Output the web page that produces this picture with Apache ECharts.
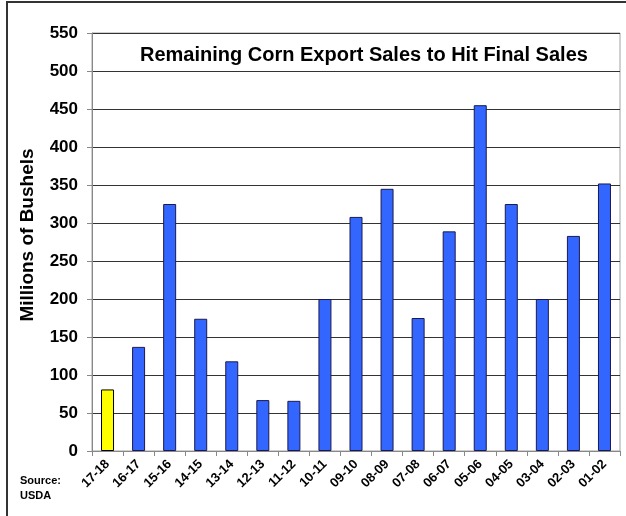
<!DOCTYPE html>
<html>
<head>
<meta charset="utf-8">
<script src="https://cdn.jsdelivr.net/npm/echarts@6/dist/echarts.min.js"></script>
<style>
  html, body { margin: 0; padding: 0; background: #fff; }
  #chart { width: 626px; height: 516px; }
</style>
</head>
<body>
<div id="chart"></div>
<script>
const categories = ['17-18','16-17','15-16','14-15','13-14','12-13','11-12','10-11','09-10','08-09','07-08','06-07','05-06','04-05','03-04','02-03','01-02'];
const remainingSales = [81, 137, 325, 174, 118, 67, 66, 200, 308, 345, 175, 289, 455, 325, 200, 283, 352];
const yTicks = { min: 0, max: 550, interval: 50 };
const titleText = 'Remaining Corn Export Sales to Hit Final Sales';
const yAxisName = 'Millions of Bushels';
const sourceText = 'Source:\nUSDA';

const FONT = 'Liberation Sans, Arial, sans-serif';
const chart = echarts.init(document.getElementById('chart'), null, { renderer: 'canvas' });

const barData = remainingSales.map((v, i) => ({
  value: v,
  itemStyle: i === 0 ? { color: '#FFFF00', borderColor: '#000000' } : {}
}));

chart.setOption({
  animation: false,
  backgroundColor: '#ffffff',
  title: {
    text: titleText,
    left: 135,
    top: 40,
    textStyle: { fontFamily: FONT, fontSize: 20, fontWeight: 'bold', color: '#000' }
  },
  grid: { left: 92, top: 33, right: 6, bottom: 65, containLabel: false, show: true, borderColor: '#a0a0a0', borderWidth: 1 },
  xAxis: {
    type: 'category',
    data: categories,
    axisLine: { show: true, lineStyle: { color: '#888', width: 1 } },
    axisTick: { show: true, alignWithLabel: false, length: 5, lineStyle: { color: '#888' } },
    axisLabel: { rotate: 45, margin: 11, interval: 0, fontFamily: FONT, fontSize: 13, fontWeight: 'bold', color: '#000' },
    splitLine: { show: false }
  },
  yAxis: {
    type: 'value',
    min: yTicks.min, max: yTicks.max, interval: yTicks.interval,
    name: yAxisName,
    nameLocation: 'middle',
    nameRotate: 90,
    nameGap: 55,
    nameTextStyle: { fontFamily: FONT, fontSize: 19, fontWeight: 'bold', color: '#000', padding: [0, 0, 0, 14] },
    axisLine: { show: true, lineStyle: { color: '#888', width: 1 } },
    axisTick: { show: true, length: 5, lineStyle: { color: '#888' } },
    axisLabel: { margin: 14, fontFamily: FONT, fontSize: 17, fontWeight: 'bold', color: '#000' },
    splitLine: { show: true, lineStyle: { color: '#333', width: 1 } }
  },
  series: [{
    type: 'bar',
    data: barData,
    barWidth: 13,
    itemStyle: { color: '#3366FF', borderColor: '#1a1a50', borderWidth: 1 }
  }],
  graphic: [
    { type: 'line', shape: { x1: 6, y1: 2, x2: 626, y2: 2 }, style: { stroke: '#333', lineWidth: 2 } },
    { type: 'line', shape: { x1: 7, y1: 2, x2: 7, y2: 516 }, style: { stroke: '#333', lineWidth: 2 } },
    { type: 'text', left: 20, top: 473, style: { text: sourceText, font: 'bold 11px ' + FONT, fill: '#000', lineHeight: 15 } }
  ]
});
</script>
</body>
</html>
